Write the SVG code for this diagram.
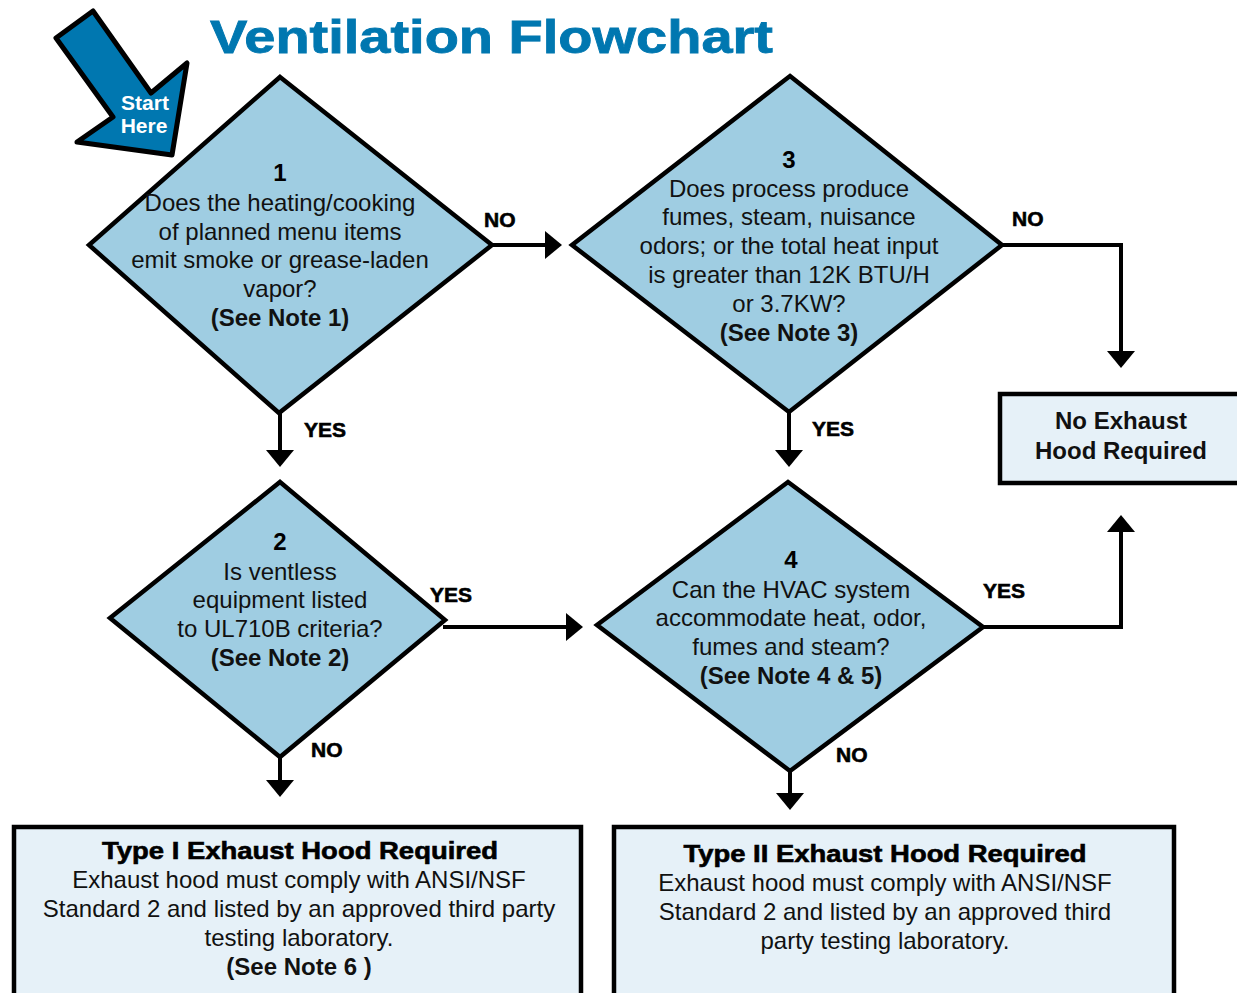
<svg xmlns="http://www.w3.org/2000/svg" width="1237" height="993" viewBox="0 0 1237 993">
<defs>
<style>
.dia{fill:#9FCDE2;stroke:#000;stroke-width:4.5;stroke-linejoin:miter}
.box{fill:#E6F1F8;stroke:#000;stroke-width:4.5}
.t{font-family:"Liberation Sans",Arial,sans-serif;font-size:24px;fill:#111;text-anchor:middle}
.b{font-weight:bold}
.num{font-family:"Liberation Sans",Arial,sans-serif;font-size:24px;font-weight:bold;fill:#000;text-anchor:middle}
.lbl{font-family:"Liberation Sans",Arial,sans-serif;font-size:21px;font-weight:bold;fill:#000;stroke:#000;stroke-width:0.6}
.hb{font-family:"Liberation Sans",Arial,sans-serif;font-size:24px;font-weight:bold;fill:#000;stroke:#000;stroke-width:0.6;text-anchor:middle}
.con{fill:none;stroke:#000;stroke-width:4;marker-end:url(#ah)}
</style>
<marker id="ah" markerUnits="userSpaceOnUse" markerWidth="17" markerHeight="28" refX="1" refY="14" orient="auto" overflow="visible">
<path d="M0,0 L17,14 L0,28 Z" fill="#000"/>
</marker>
</defs>
<rect width="1237" height="993" fill="#fff"/>

<g id="title">
<text x="210" y="53" font-family="Liberation Sans,Arial,sans-serif" font-size="46" font-weight="bold" fill="#0077B0" stroke="#0077B0" stroke-width="0.8" textLength="563" lengthAdjust="spacingAndGlyphs">Ventilation Flowchart</text>
</g>

<g id="start">
<polygon points="56,38 93,11 151,93 187,63 172,155 77,142 113,117" fill="#0077B0" stroke="#000" stroke-width="5" stroke-linejoin="round"/>
<text x="145" y="110" font-family="Liberation Sans,Arial,sans-serif" font-size="21" font-weight="bold" fill="#fff" text-anchor="middle">Start</text>
<text x="144" y="133" font-family="Liberation Sans,Arial,sans-serif" font-size="21" font-weight="bold" fill="#fff" text-anchor="middle">Here</text>
</g>

<g id="connectors">
<path class="con" d="M492,245 H546"/>
<path class="con" d="M1002,245 H1121 V352"/>
<path class="con" d="M280,413 V451"/>
<path class="con" d="M789,412 V451"/>
<path class="con" d="M443,627 H567"/>
<path class="con" d="M983,627 H1121 V531"/>
<path class="con" d="M280,757 V781"/>
<path class="con" d="M790,771 V794"/>
<text class="lbl" x="484" y="227">NO</text>
<text class="lbl" x="1012" y="226">NO</text>
<text class="lbl" x="304" y="437">YES</text>
<text class="lbl" x="812" y="436">YES</text>
<text class="lbl" x="430" y="602">YES</text>
<text class="lbl" x="983" y="598">YES</text>
<text class="lbl" x="311" y="757">NO</text>
<text class="lbl" x="836" y="762">NO</text>
</g>

<g id="node1">
<polygon class="dia" points="280,77 492,245 279,413 89,245"/>
<text class="num" x="280" y="181">1</text>
<text class="t" x="280" y="211">Does the heating/cooking</text>
<text class="t" x="280" y="240">of planned menu items</text>
<text class="t" x="280" y="268">emit smoke or grease-laden</text>
<text class="t" x="280" y="297">vapor?</text>
<text class="t b" x="280" y="326">(See Note 1)</text>
</g>

<g id="node3">
<polygon class="dia" points="790,76 1002,245 789,412 572,245"/>
<text class="num" x="789" y="168">3</text>
<text class="t" x="789" y="197">Does process produce</text>
<text class="t" x="789" y="225">fumes, steam, nuisance</text>
<text class="t" x="789" y="254">odors; or the total heat input</text>
<text class="t" x="789" y="283">is greater than 12K BTU/H</text>
<text class="t" x="789" y="312">or 3.7KW?</text>
<text class="t b" x="789" y="341">(See Note 3)</text>
</g>

<g id="node2">
<polygon class="dia" points="280,482 445,620 280,757 110,618"/>
<text class="num" x="280" y="550">2</text>
<text class="t" x="280" y="580">Is ventless</text>
<text class="t" x="280" y="608">equipment listed</text>
<text class="t" x="280" y="637">to UL710B criteria?</text>
<text class="t b" x="280" y="666">(See Note 2)</text>
</g>

<g id="node4">
<polygon class="dia" points="788,482 983,627 790,771 597,625"/>
<text class="num" x="791" y="568">4</text>
<text class="t" x="791" y="598">Can the HVAC system</text>
<text class="t" x="791" y="626">accommodate heat, odor,</text>
<text class="t" x="791" y="655">fumes and steam?</text>
<text class="t b" x="791" y="684">(See Note 4 &amp; 5)</text>
</g>

<g id="noexhaust">
<rect class="box" x="1000" y="394" width="250" height="89"/>
<text class="t b" x="1121" y="429">No Exhaust</text>
<text class="t b" x="1121" y="459">Hood Required</text>
</g>

<g id="type1">
<rect class="box" x="14" y="827" width="567" height="190"/>
<text class="hb" x="300" y="859" textLength="396" lengthAdjust="spacingAndGlyphs">Type I Exhaust Hood Required</text>
<text class="t" x="299" y="888">Exhaust hood must comply with ANSI/NSF</text>
<text class="t" x="299" y="917">Standard 2 and listed by an approved third party</text>
<text class="t" x="299" y="946">testing laboratory.</text>
<text class="t b" x="299" y="975">(See Note 6 )</text>
</g>

<g id="type2">
<rect class="box" x="614" y="827" width="560" height="190"/>
<text class="hb" x="885" y="862" textLength="403" lengthAdjust="spacingAndGlyphs">Type II Exhaust Hood Required</text>
<text class="t" x="885" y="891">Exhaust hood must comply with ANSI/NSF</text>
<text class="t" x="885" y="920">Standard 2 and listed by an approved third</text>
<text class="t" x="885" y="949">party testing laboratory.</text>
</g>
</svg>
